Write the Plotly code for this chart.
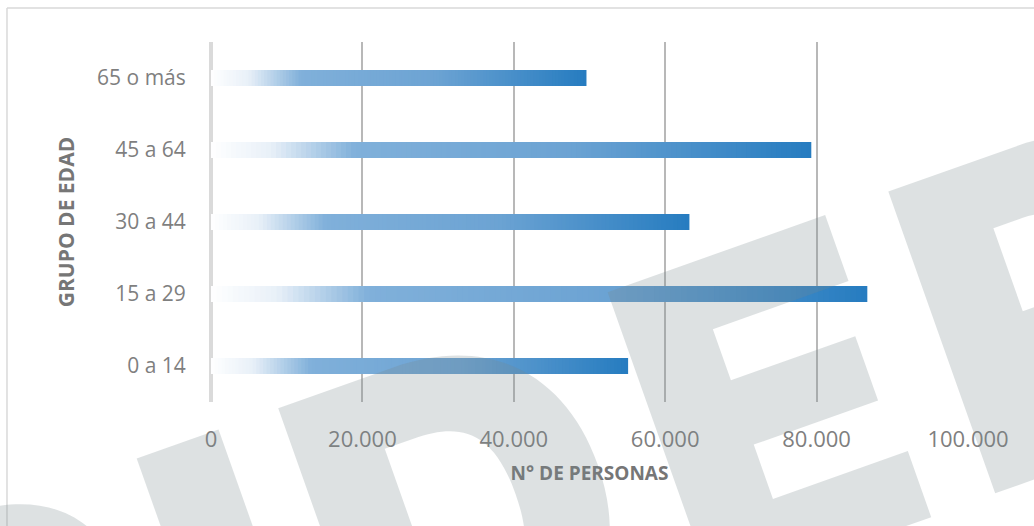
import numpy as np
import plotly.graph_objects as go

# ---------------- data ----------------
categories = ["0 a 14", "15 a 29", "30 a 44", "45 a 64", "65 o más"]
personas = [55100, 86700, 63200, 79300, 49600]
x_tick_vals = [0, 20000, 40000, 60000, 80000, 100000]
x_tick_text = ["0", "20.000", "40.000", "60.000", "80.000", "100.000"]
x_title = "N° DE PERSONAS"
y_title = "GRUPO DE EDAD"
watermark_letters = ["S", "I", "D", "E", "P"]

# gradient fill of each bar (white -> light blue -> blue)
grad_pos = [0.0, 0.10, 0.24, 0.60, 1.0]
grad_r = [255, 232, 128, 108, 38]
grad_g = [255, 240, 176, 163, 124]
grad_b = [255, 248, 218, 211, 192]
n_steps = 120

fig = go.Figure()
# overlaid bars: the longest (darkest end colour) first, shorter ones on top
for k in range(n_steps - 1, -1, -1):
    t = (k + 0.5) / n_steps
    col = "rgb(%d,%d,%d)" % (
        round(np.interp(t, grad_pos, grad_r)),
        round(np.interp(t, grad_pos, grad_g)),
        round(np.interp(t, grad_pos, grad_b)),
    )
    frac = (k + 1) / n_steps
    fig.add_trace(go.Bar(
        y=categories,
        x=[v * frac for v in personas],
        orientation="h",
        width=0.22,
        marker=dict(color=col, line=dict(width=0)),
        showlegend=False,
        hoverinfo="skip",
    ))

tick_font = dict(family="Open Sans", size=22, color="#7F7F7F")
title_font = dict(family="Open Sans", size=20, color="#767676", weight="bold")

# watermark letters (layout decoration, paper coordinates)
wm_x = [-0.2589, 0.0259, 0.3313, 0.7366, 1.1202]
wm_y = [-0.7472, -0.5356, -0.3072, -0.0089, 0.2806]
annotations = []
for ch, ax_, ay_ in zip(watermark_letters, wm_x, wm_y):
    annotations.append(dict(
        text=ch, xref="paper", yref="paper", x=ax_, y=ay_,
        xanchor="center", yanchor="middle", showarrow=False,
        textangle=-19.5,
        font=dict(family="Inter", size=440, weight=900,
                  color="rgba(120,135,140,0.25)"),
    ))

fig.update_layout(
    width=1034,
    height=526,
    margin=dict(l=211, r=66, t=42, b=124),
    paper_bgcolor="white",
    plot_bgcolor="white",
    barmode="overlay",
    showlegend=False,
    xaxis=dict(
        range=[0, 100000],
        tickvals=x_tick_vals,
        ticktext=x_tick_text,
        tickfont=tick_font,
        showgrid=True,
        gridcolor="#B8B8B8",
        gridwidth=2,
        zeroline=True,
        zerolinecolor="#DADADA",
        zerolinewidth=3.5,
        ticks="outside",
        ticklen=18,
        tickcolor="rgba(0,0,0,0)",
        showline=False,
        fixedrange=True,
        title=dict(text=x_title, font=dict(title_font, size=19), standoff=14),
        automargin=False,
    ),
    yaxis=dict(
        categoryorder="array",
        categoryarray=categories,
        range=[-0.5, 4.5],
        tickfont=dict(tick_font, size=21),
        showgrid=False,
        zeroline=False,
        showline=False,
        ticks="outside",
        ticklen=20,
        tickcolor="rgba(0,0,0,0)",
        fixedrange=True,
        title=dict(text=y_title, font=dict(title_font, size=21), standoff=16),
        automargin=False,
    ),
    annotations=annotations,
    shapes=[
        dict(type="line", xref="paper", yref="paper",
             x0=-0.2695, x1=-0.2695, y0=-0.5, y1=1.0944,
             line=dict(color="#D9D9D9", width=1.5), layer="below"),
        dict(type="line", xref="paper", yref="paper",
             x0=-0.2695, x1=1.2, y0=1.0944, y1=1.0944,
             line=dict(color="#D9D9D9", width=1.5), layer="below"),
    ],
)

fig.write_html("out.html", config={"displayModeBar": False},
               post_script="document.body.style.margin='0';document.body.style.overflow='hidden';")
